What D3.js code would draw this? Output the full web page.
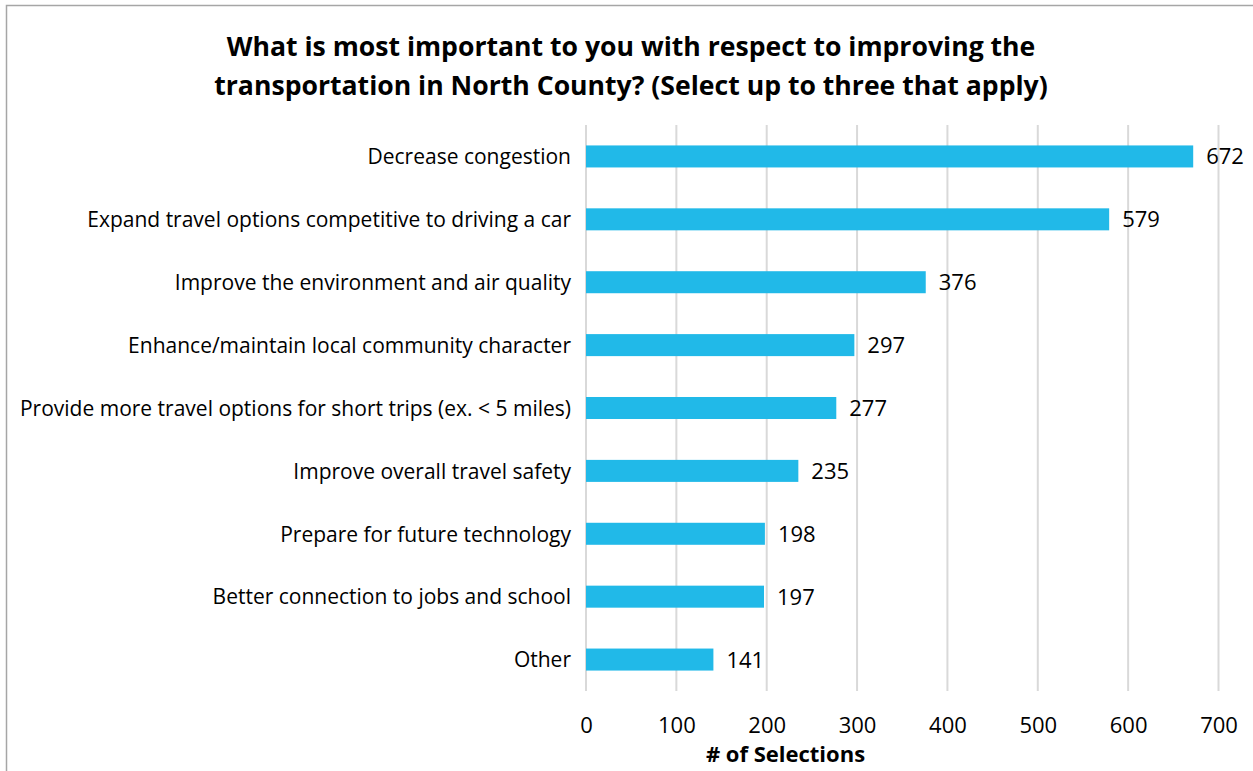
<!DOCTYPE html>
<html>
<head>
<meta charset="utf-8">
<script src="https://cdn.jsdelivr.net/npm/d3@7"></script>
<style>
  html, body { margin: 0; padding: 0; background: #fff; }
  svg { display: block; }
</style>
</head>
<body>
<svg id="chart" width="1253" height="771"></svg>
<script>
// Survey responses: priorities for improving transportation in North County
const categories = [
  "Decrease congestion",
  "Expand travel options competitive to driving a car",
  "Improve the environment and air quality",
  "Enhance/maintain local community character",
  "Provide more travel options for short trips (ex. < 5 miles)",
  "Improve overall travel safety",
  "Prepare for future technology",
  "Better connection to jobs and school",
  "Other"
];
const selections = [672, 579, 376, 297, 277, 235, 198, 197, 141];
const xTicks = [0, 100, 200, 300, 400, 500, 600, 700];
const titleLines = [
  "What is most important to you with respect to improving the",
  "transportation in North County? (Select up to three that apply)"
];
const xAxisTitle = "# of Selections";

const font = "'Open Sans', Lato, sans-serif";
const svg = d3.select("#chart");
const W = 1253, H = 771;
const margin = { top: 125, right: 35, bottom: 80, left: 586 };

// chart frame
svg.append("rect")
  .attr("x", 6.5).attr("y", 5.5)
  .attr("width", W + 10).attr("height", H + 10)
  .attr("fill", "#fff")
  .attr("stroke", "#a6a6a6").attr("stroke-width", 1.5);

const x = d3.scaleLinear().domain([0, 700]).range([margin.left, 1218.5]);
const y = d3.scaleBand().domain(categories).range([margin.top, 691]).paddingInner(0.65).paddingOuter(0.325);

// vertical gridlines
svg.append("g").selectAll("line").data(xTicks).join("line")
  .attr("x1", d => x(d)).attr("x2", d => x(d))
  .attr("y1", margin.top).attr("y2", 691)
  .attr("stroke", "#d9d9d9").attr("stroke-width", 2);

// bars
svg.append("g").selectAll("rect").data(categories).join("rect")
  .attr("x", x(0))
  .attr("y", d => y(d))
  .attr("width", (d, i) => x(selections[i]) - x(0))
  .attr("height", y.bandwidth())
  .attr("fill", "#21b9e8");

// value labels
svg.append("g").selectAll("text").data(categories).join("text")
  .attr("x", (d, i) => x(selections[i]) + 13)
  .attr("y", d => y(d) + y.bandwidth() / 2 + 8)
  .attr("font-family", font).attr("font-size", 22)
  .attr("fill", "#000")
  .text((d, i) => selections[i]);

// category axis labels
const yAxis = d3.axisLeft(y).tickSize(0).tickPadding(15);
const gy = svg.append("g").attr("transform", `translate(${margin.left},0)`).call(yAxis);
gy.select(".domain").remove();
gy.selectAll("text")
  .attr("font-family", font).attr("font-size", 21)
  .attr("fill", "#000").attr("dy", "0.37em");

// value axis ticks
const xAxis = d3.axisBottom(x).tickValues(xTicks).tickSize(0).tickPadding(26);
const gx = svg.append("g").attr("transform", `translate(0,691)`).call(xAxis);
gx.select(".domain").remove();
gx.selectAll("text")
  .attr("font-family", font).attr("font-size", 22)
  .attr("fill", "#000");

// axis title
svg.append("text")
  .attr("x", 785.5).attr("y", 762)
  .attr("text-anchor", "middle")
  .attr("font-family", font).attr("font-size", 22).attr("font-weight", "bold")
  .text(xAxisTitle);

// chart title
svg.append("g").selectAll("text").data(titleLines).join("text")
  .attr("x", 631)
  .attr("y", (d, i) => 56 + i * 39)
  .attr("text-anchor", "middle")
  .attr("font-family", font).attr("font-size", 26.6).attr("font-weight", "bold")
  .text(d => d);
</script>
</body>
</html>
